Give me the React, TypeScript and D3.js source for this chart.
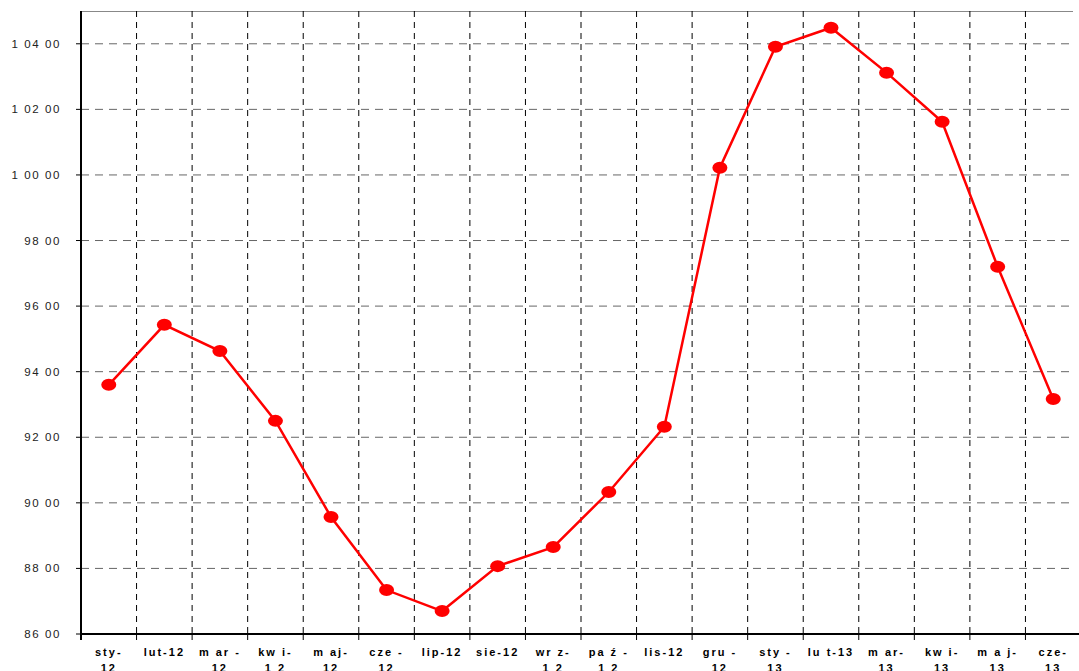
import { useEffect, useRef } from "react";
import * as d3 from "d3";

// Monthly values
const MONTHS = [
  ["sty-", "12"], ["lut-12"], ["m ar -", "12"], ["kw i-", "1 2"], ["m aj-", "12"],
  ["cze -", "12"], ["lip-12"], ["sie-12"], ["wr z-", "1 2"], ["pa ź -", "1 2"],
  ["lis-12"], ["gru -", "12"], ["sty -", "13"], ["lu t-13"], ["m ar-", "13"],
  ["kw i-", "13"], ["m a j-", "13"], ["cze-", "13"],
];
const VALUES = [
  9360, 9543, 9463, 9250, 8957, 8734, 8670, 8807, 8865, 9033, 9232, 10022,
  10391, 10449, 10312, 10162, 9720, 9317,
];
const Y_TICKS = [8600, 8800, 9000, 9200, 9400, 9600, 9800, 10000, 10200, 10400];
const Y_LABELS = ["86 00", "88 00", "90 00", "92 00", "94 00", "96 00", "98 00", "1 00 00", "1 02 00", "1 04 00"];

const W = 1079;
const H = 671;
const MARGIN = { top: 11, left: 81, bottom: 37 };
const INNER_W = 1000; // plot runs slightly past the right edge, as in the source
const FONT = "'Liberation Sans', Arial, sans-serif";

export default function App() {
  const svgRef = useRef<SVGSVGElement | null>(null);

  useEffect(() => {
    if (!svgRef.current) return;
    const svg = d3.select(svgRef.current);
    svg.selectAll("*").remove();

    const innerW = INNER_W;
    const innerH = H - MARGIN.top - MARGIN.bottom;
    const lineEnd = W - 6 - MARGIN.left; // gridlines/top border stop short of the edge
    const root = svg.append("g").attr("transform", `translate(${MARGIN.left},${MARGIN.top})`);

    const x = d3.scaleBand<number>().domain(d3.range(VALUES.length)).range([0, innerW]);
    const y = d3.scaleLinear().domain([8600, 10500]).range([innerH, 0]);
    const cx = (i: number) => (x(i) ?? 0) + x.bandwidth() / 2;

    // top border
    root.append("line")
      .attr("x1", 0).attr("x2", lineEnd)
      .attr("y1", 0.5).attr("y2", 0.5)
      .attr("stroke", "#888").attr("stroke-width", 1.2);

    // horizontal gridlines (gray dashed)
    root.append("g").selectAll("line")
      .data(Y_TICKS.slice(1))
      .join("line")
      .attr("x1", 0).attr("x2", lineEnd)
      .attr("y1", (d) => y(d)).attr("y2", (d) => y(d))
      .attr("stroke", "#666").attr("stroke-width", 1)
      .attr("stroke-dasharray", "8,6");

    // vertical gridlines (black dashed) at category boundaries
    root.append("g").selectAll("line")
      .data(d3.range(1, VALUES.length))
      .join("line")
      .attr("x1", (i) => x(i) ?? 0).attr("x2", (i) => x(i) ?? 0)
      .attr("y1", 0).attr("y2", innerH)
      .attr("stroke", "#000").attr("stroke-width", 1)
      .attr("stroke-dasharray", "6,5");

    // y axis
    const yAxis = root.append("g");
    yAxis.append("line")
      .attr("x1", 0).attr("x2", 0).attr("y1", 0).attr("y2", innerH + 6)
      .attr("stroke", "#000").attr("stroke-width", 2);
    yAxis.selectAll("line.tick")
      .data(Y_TICKS)
      .join("line")
      .attr("class", "tick")
      .attr("x1", -5).attr("x2", 0)
      .attr("y1", (d) => y(d)).attr("y2", (d) => y(d))
      .attr("stroke", "#000").attr("stroke-width", 1);
    yAxis.selectAll("text")
      .data(Y_TICKS)
      .join("text")
      .attr("x", -20)
      .attr("y", (d) => y(d))
      .attr("dy", "0.35em")
      .attr("text-anchor", "end")
      .attr("font-family", FONT)
      .attr("font-size", 11.5)
      .attr("letter-spacing", "1.6px")
      .attr("fill", "#222")
      .text((_d, i) => Y_LABELS[i]);

    // x axis
    const xAxis = root.append("g").attr("transform", `translate(0,${innerH})`);
    xAxis.append("line")
      .attr("x1", 0).attr("x2", innerW).attr("y1", 0).attr("y2", 0)
      .attr("stroke", "#000").attr("stroke-width", 2);
    xAxis.selectAll("line.tick")
      .data(d3.range(0, VALUES.length))
      .join("line")
      .attr("class", "tick")
      .attr("x1", (i) => x(i) ?? 0).attr("x2", (i) => x(i) ?? 0)
      .attr("y1", 0).attr("y2", 6)
      .attr("stroke", "#000").attr("stroke-width", 1);
    const labels = xAxis.selectAll("text")
      .data(MONTHS)
      .join("text")
      .attr("x", (_d, i) => cx(i))
      .attr("y", 22)
      .attr("text-anchor", "middle")
      .attr("font-family", FONT)
      .attr("font-size", 11)
      .attr("font-weight", "bold")
      .attr("letter-spacing", "2px")
      .attr("fill", "#000");
    labels.each(function (d, i) {
      d.forEach((part, k) => {
        d3.select(this).append("tspan")
          .attr("x", cx(i))
          .attr("dy", k === 0 ? 0 : 16)
          .text(part);
      });
    });

    // line
    const line = d3.line<number>()
      .x((_d, i) => cx(i))
      .y((d) => y(d));
    root.append("path")
      .datum(VALUES)
      .attr("fill", "none")
      .attr("stroke", "#ff0000")
      .attr("stroke-width", 2.5)
      .attr("d", line);

    // markers
    root.append("g").selectAll("ellipse")
      .data(VALUES)
      .join("ellipse")
      .attr("cx", (_d, i) => cx(i))
      .attr("cy", (d) => y(d))
      .attr("rx", 7.5).attr("ry", 6)
      .attr("fill", "#ff0000");
  }, []);

  return (
    <svg
      ref={svgRef}
      width={W}
      height={H}
      style={{ position: "absolute", left: 0, top: 0, background: "#fff" }}
    />
  );
}
